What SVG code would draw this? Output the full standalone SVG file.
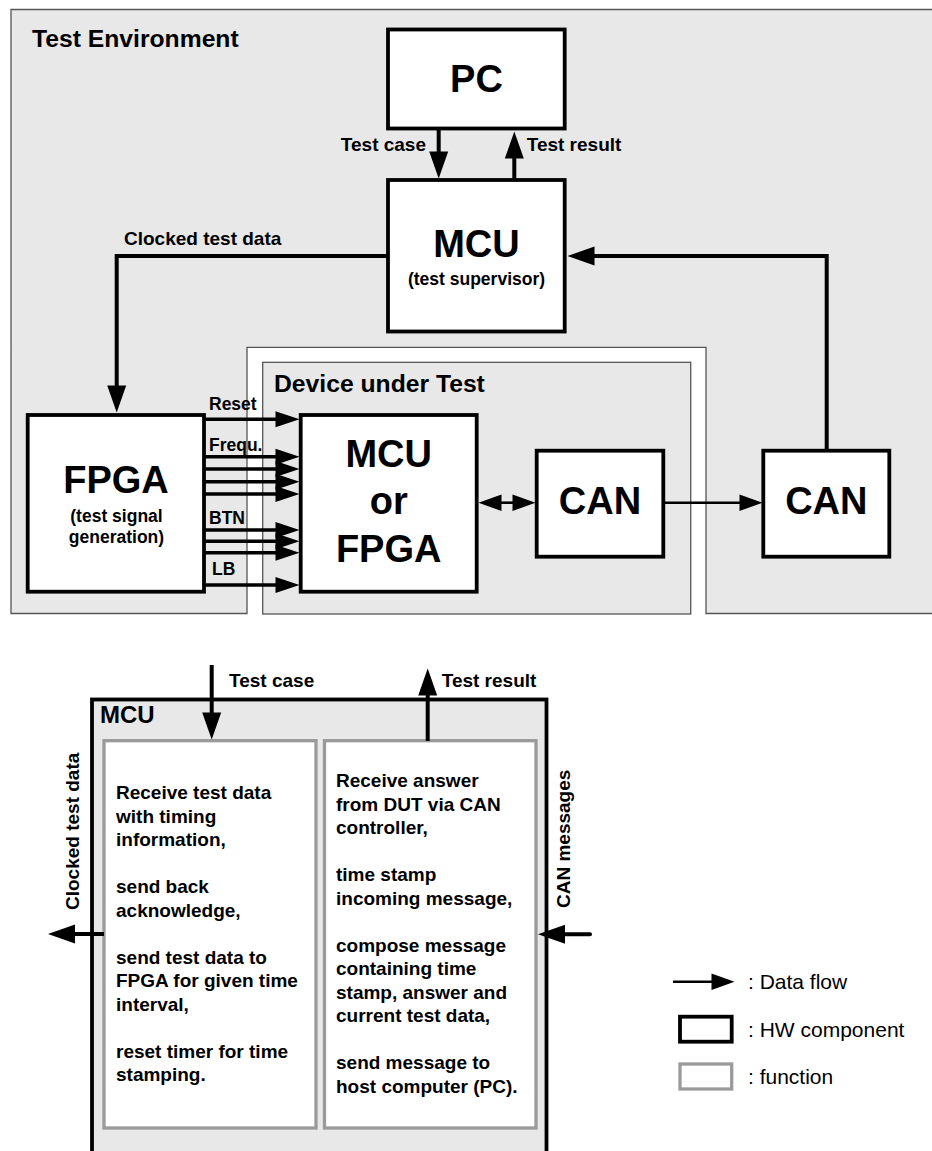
<svg xmlns="http://www.w3.org/2000/svg" width="932" height="1151" viewBox="0 0 932 1151">
  <style>
    .area { fill: #e8e8e8; stroke: #555; stroke-width: 1.3; }
    .hw { fill: #fff; stroke: #000; stroke-width: 3.8; }
    .hwg { fill: #e8e8e8; stroke: #000; stroke-width: 3.8; }
    .fn { fill: #fff; stroke: #9a9a9a; stroke-width: 3.3; }
    .t { font-family: "Liberation Sans", Arial, sans-serif; font-weight: bold; fill: #000; }
    .big { font-size: 38px; text-anchor: middle; }
    .sub { font-size: 17.5px; text-anchor: middle; }
    .title { font-size: 24.7px; }
    .lbl { font-size: 19px; }
    .sig { font-size: 17.5px; }
    .leg { font-family: "Liberation Sans", Arial, sans-serif; font-size: 21px; fill: #000; }
    .thick { fill: none; stroke: #000; stroke-width: 4; }
    .mid { fill: none; stroke: #000; stroke-width: 3.5; }
    .thin { fill: none; stroke: #000; stroke-width: 2.6; }
  </style>
  <defs>
    <marker id="headL" markerUnits="userSpaceOnUse" viewBox="0 -10 28 20" markerWidth="28" markerHeight="20" refX="0.5" refY="0" orient="auto" overflow="visible">
      <path d="M0,-9.5 L27,0 L0,9.5 Z" fill="#000"/>
    </marker>
    <marker id="headM" markerUnits="userSpaceOnUse" viewBox="0 -9 25 18" markerWidth="25" markerHeight="18" refX="0.5" refY="0" orient="auto" overflow="visible">
      <path d="M0,-8 L24,0 L0,8 Z" fill="#000"/>
    </marker>
    <marker id="headS" markerUnits="userSpaceOnUse" viewBox="0 -9 24 18" markerWidth="24" markerHeight="18" refX="0.5" refY="0" orient="auto-start-reverse" overflow="visible">
      <path d="M0,-8.3 L23,0 L0,8.3 Z" fill="#000"/>
    </marker>
  </defs>

  <!-- environment frames -->
  <g id="test-environment">
    <path class="area" d="M11,9.5 H945 V613.5 H706 V347.3 H247 V613.5 H11 Z"/>
    <text class="t title" x="32" y="46.7">Test Environment</text>
  </g>
  <g id="device-under-test">
    <rect class="area" x="262.7" y="362.3" width="428" height="251.7"/>
    <text class="t title" x="274" y="391.7">Device under Test</text>
  </g>

  <!-- hardware components -->
  <g id="pc">
    <rect class="hw" x="388" y="29.5" width="176.7" height="99"/>
    <text class="t big" x="476.5" y="91.7">PC</text>
  </g>
  <g id="mcu-supervisor">
    <rect class="hw" x="388" y="180" width="176.7" height="151.5"/>
    <text class="t big" x="476.5" y="256.7">MCU</text>
    <text class="t sub" x="476.5" y="285">(test supervisor)</text>
  </g>
  <g id="fpga">
    <rect class="hw" x="27.7" y="415" width="176.3" height="176.7"/>
    <text class="t big" x="116" y="493.3">FPGA</text>
    <text class="t sub" x="116.5" y="521.7">(test signal</text>
    <text class="t sub" x="116.5" y="543">generation)</text>
  </g>
  <g id="dut-mcu">
    <rect class="hw" x="300.7" y="415" width="176" height="176.7"/>
    <text class="t big" x="388.7" y="467.3">MCU</text>
    <text class="t big" x="388.7" y="514.3">or</text>
    <text class="t big" x="388.7" y="561.7">FPGA</text>
  </g>
  <g id="dut-can">
    <rect class="hw" x="536.7" y="450.7" width="126.6" height="106"/>
    <text class="t big" x="600" y="514.3">CAN</text>
  </g>
  <g id="env-can">
    <rect class="hw" x="763.3" y="450.7" width="126" height="106"/>
    <text class="t big" x="826.3" y="514.3">CAN</text>
  </g>

  <!-- MCU detail block -->
  <g id="mcu-detail">
    <rect class="hwg" x="92" y="699.5" width="454.5" height="480"/>
    <text class="t title" style="font-size:24px" x="100" y="723">MCU</text>
  </g>
  <g id="fn-timing">
    <rect class="fn" x="104" y="740.7" width="212" height="387.3"/>
    <text class="t lbl">
      <tspan x="116" y="799">Receive test data</tspan>
      <tspan x="116" y="822.5">with timing</tspan>
      <tspan x="116" y="846">information,</tspan>
      <tspan x="116" y="893">send back</tspan>
      <tspan x="116" y="916.5">acknowledge,</tspan>
      <tspan x="116" y="963.5">send test data to</tspan>
      <tspan x="116" y="987">FPGA for given time</tspan>
      <tspan x="116" y="1010.5">interval,</tspan>
      <tspan x="116" y="1057.5">reset timer for time</tspan>
      <tspan x="116" y="1081">stamping.</tspan>
    </text>
  </g>
  <g id="fn-answer">
    <rect class="fn" x="324.5" y="740.7" width="211.5" height="387.3"/>
    <text class="t lbl">
      <tspan x="336" y="787">Receive answer</tspan>
      <tspan x="336" y="810.5">from DUT via CAN</tspan>
      <tspan x="336" y="834">controller,</tspan>
      <tspan x="336" y="881">time stamp</tspan>
      <tspan x="336" y="904.5">incoming message,</tspan>
      <tspan x="336" y="951.5">compose message</tspan>
      <tspan x="336" y="975">containing time</tspan>
      <tspan x="336" y="998.5">stamp, answer and</tspan>
      <tspan x="336" y="1022">current test data,</tspan>
      <tspan x="336" y="1069">send message to</tspan>
      <tspan x="336" y="1092.5">host computer (PC).</tspan>
    </text>
  </g>

  <!-- connectors -->
  <g id="connectors">
    <path class="thick" d="M438.7,128 V152" marker-end="url(#headL)"/>
    <path class="thick" d="M514.3,180 V158" marker-end="url(#headL)"/>
    <path class="thick" d="M388,256 H116.7 V386" marker-end="url(#headL)"/>
    <path class="thick" d="M826.7,450 V256 H594" marker-end="url(#headL)"/>

    <path class="mid" d="M204,419.3 H276" marker-end="url(#headM)"/>
    <path class="mid" d="M204,456.7 H276" marker-end="url(#headM)"/>
    <path class="mid" d="M204,469 H276" marker-end="url(#headM)"/>
    <path class="mid" d="M204,481.7 H276" marker-end="url(#headM)"/>
    <path class="mid" d="M204,494 H276" marker-end="url(#headM)"/>
    <path class="mid" d="M204,530 H276" marker-end="url(#headM)"/>
    <path class="mid" d="M204,541.3 H276" marker-end="url(#headM)"/>
    <path class="mid" d="M204,552.7 H276" marker-end="url(#headM)"/>
    <path class="mid" d="M204,585 H276" marker-end="url(#headM)"/>

    <path class="thin" d="M501,502.7 H513" marker-start="url(#headS)" marker-end="url(#headS)"/>
    <path class="thin" d="M663.3,502.7 H740" marker-end="url(#headS)"/>

    <path class="thick" d="M211.7,665 V713" marker-end="url(#headL)"/>
    <path class="thick" d="M427.7,741 V695" marker-end="url(#headL)"/>
    <path class="thick" d="M104,934 H74.5" marker-end="url(#headL)"/>
    <path class="thick" stroke-linecap="round" d="M590,934.3 H564.5" marker-end="url(#headL)"/>

    <path class="thin" d="M673,981.7 H712" marker-end="url(#headS)"/>
  </g>

  <!-- connector labels -->
  <g id="connector-labels">
    <text class="t lbl" x="426" y="151" text-anchor="end">Test case</text>
    <text class="t lbl" x="526.7" y="151">Test result</text>
    <text class="t lbl" x="124" y="245">Clocked test data</text>
    <text class="t sig" x="209" y="410">Reset</text>
    <text class="t sig" x="209" y="450.7">Frequ.</text>
    <text class="t sig" x="209" y="524">BTN</text>
    <text class="t sig" x="212" y="575">LB</text>
    <text class="t lbl" x="229" y="686.7">Test case</text>
    <text class="t lbl" x="441.7" y="686.7">Test result</text>
    <text class="t lbl" transform="translate(78.5,910) rotate(-90)">Clocked test data</text>
    <text class="t lbl" transform="translate(569.5,908) rotate(-90)">CAN messages</text>
  </g>

  <!-- legend -->
  <g id="legend">
    <text class="leg" x="748" y="989">: Data flow</text>
    <rect x="680" y="1016.7" width="51.7" height="25" fill="#fff" stroke="#000" stroke-width="3.8"/>
    <text class="leg" x="748" y="1036.5">: HW component</text>
    <rect x="680" y="1064" width="51.7" height="25" fill="#fff" stroke="#9a9a9a" stroke-width="3.3"/>
    <text class="leg" x="748" y="1084">: function</text>
  </g>
</svg>
